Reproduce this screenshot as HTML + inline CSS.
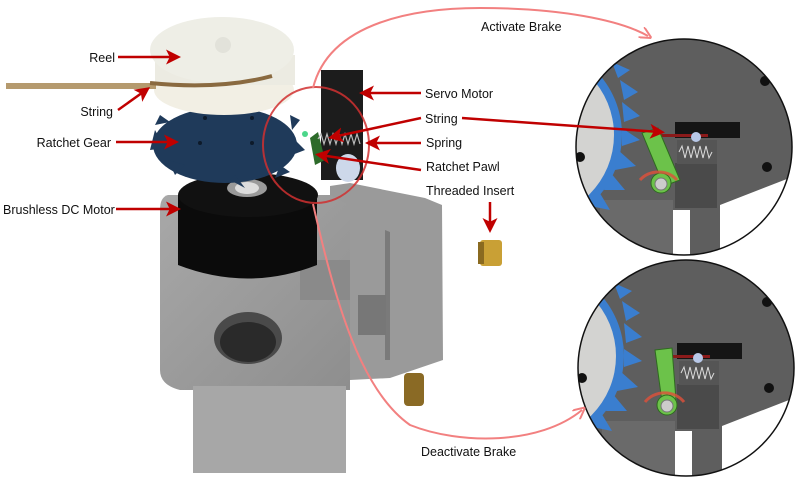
<!DOCTYPE html>
<html><head><style>
html,body{margin:0;padding:0;background:#fff;}
svg{display:block;}
text{font-family:"Liberation Sans",sans-serif;font-size:12.5px;fill:#111;}
</style></head><body>
<svg width="804" height="486" viewBox="0 0 804 486" xmlns="http://www.w3.org/2000/svg">
<defs>
<marker id="ah" markerWidth="6" markerHeight="6" refX="4" refY="3" orient="auto" markerUnits="strokeWidth"><path d="M0,0 L6,3 L0,6 L1.5,3 z" fill="#c00000"/></marker>
<marker id="ap" markerWidth="6" markerHeight="6" refX="4" refY="3" orient="auto" markerUnits="strokeWidth"><path d="M0,0 L6,3 L0,6" fill="none" stroke="#f28080" stroke-width="1"/></marker>
<clipPath id="c1"><circle cx="684" cy="147" r="108"/></clipPath>
<clipPath id="c2"><circle cx="686" cy="368" r="108"/></clipPath>
<linearGradient id="gray" x1="0" y1="0" x2="1" y2="1"><stop offset="0" stop-color="#a8a8a8"/><stop offset="1" stop-color="#8e8e8e"/></linearGradient>
<g id="detail">
 <rect x="570" y="30" width="240" height="240" fill="#5e5e5e"/>
 <polygon points="720,205 810,170 810,270 720,270" fill="#fff"/>
 <polygon points="600,200 673,200 673,270 600,270" fill="#6a6a6a"/>
 <polygon points="673,210 690,210 690,270 673,270" fill="#fff"/>
 <rect x="675" y="163" width="42" height="45" fill="#4a4a4a"/>
 <rect x="675" y="122" width="65" height="16" fill="#151515"/>
 <rect x="677" y="140" width="40" height="24" fill="#555"/>
 <path d="M679,152 l3,-6 3,12 3,-12 3,12 3,-12 3,12 3,-12 3,12 3,-12 3,12 3,-6" fill="none" stroke="#ddd" stroke-width="1"/>
 <circle cx="530" cy="135" r="92" fill="#3a7ecf"/>
 <circle cx="530" cy="135" r="84" fill="#d3d3d1"/>
 <g fill="#3a7ecf">
  <polygon points="612,62 630,70 618,78"/><polygon points="620,80 638,92 624,100"/><polygon points="622,102 640,116 624,122"/>
  <polygon points="622,128 640,140 622,146"/><polygon points="618,150 636,166 615,170"/><polygon points="610,172 625,190 604,190"/>
  <polygon points="598,190 610,210 590,206"/>
 </g>
 <circle cx="580" cy="157" r="5" fill="#111"/>
 <circle cx="765" cy="81" r="5" fill="#111"/>
 <circle cx="767" cy="167" r="5" fill="#111"/>
 <rect x="660" y="134" width="48" height="3" fill="#8b1a1a"/>
 <circle cx="696" cy="137" r="5" fill="#b8c8e8"/>
</g>
</defs>

<!-- right detail circles -->
<g clip-path="url(#c1)">
 <use href="#detail"/>
 <path d="M642,133 L658,128 L680,180 L664,186 z" fill="#6cc24a" stroke="#2e6b1f" stroke-width="1"/>
 <circle cx="661" cy="183" r="10" fill="#6cc24a" stroke="#2e6b1f"/>
 <circle cx="661" cy="184" r="6" fill="#ccc" stroke="#777"/>
 <path d="M640,180 A24,22 0 0 1 677,180" fill="none" stroke="#e0503a" stroke-width="3" opacity="0.8"/>
</g>
<circle cx="684" cy="147" r="108" fill="none" stroke="#111" stroke-width="1.5"/>

<g clip-path="url(#c2)">
 <use href="#detail" transform="translate(2,221)"/>
 <path d="M655,350 L672,348 L676,400 L662,402 z" fill="#6cc24a" stroke="#2e6b1f" stroke-width="1"/>
 <circle cx="667" cy="405" r="10" fill="#6cc24a" stroke="#2e6b1f"/>
 <circle cx="667" cy="406" r="6" fill="#ccc" stroke="#777"/>
 <path d="M645,402 A24,22 0 0 1 684,402" fill="none" stroke="#e0503a" stroke-width="3" opacity="0.8"/>
</g>
<circle cx="686" cy="368" r="108" fill="none" stroke="#111" stroke-width="1.5"/>

<!-- base -->
<polygon points="330,186 350,183 425,198 442,205 443,360 390,378 350,380 350,300 330,290" fill="#9a9a9a"/>
<polygon points="385,230 390,232 390,360 385,360" fill="#7a7a7a"/>
<rect x="358" y="295" width="28" height="40" fill="#777"/>
<path d="M168,195 L330,195 L350,205 L350,390 L180,390 Q160,385 160,370 L160,210 Q160,197 168,195 z" fill="url(#gray)"/>
<rect x="300" y="260" width="50" height="40" fill="#8a8a8a"/>
<ellipse cx="248" cy="338" rx="34" ry="26" fill="#4a4a4a"/>
<ellipse cx="248" cy="342" rx="28" ry="20" fill="#2a2a2a"/>
<rect x="193" y="386" width="153" height="87" fill="#a7a7a7"/>

<!-- motor -->
<path d="M178,195 L317,195 L317,265 Q248,292 178,265 z" fill="#0b0b0b"/>
<ellipse cx="248" cy="195" rx="70" ry="22" fill="#111"/>
<ellipse cx="247" cy="188" rx="20" ry="9" fill="#9a9a9a"/>
<ellipse cx="247" cy="188" rx="12" ry="6" fill="#ddd"/>

<!-- gear -->
<ellipse cx="225" cy="145" rx="72" ry="38" fill="#1f3a5a"/>
<g fill="#1f3a5a">
 <polygon points="155,130 150,150 165,148"/><polygon points="160,115 155,125 170,122"/><polygon points="168,160 175,175 185,165"/>
 <polygon points="290,115 300,120 292,130"/><polygon points="295,140 305,150 292,155"/><polygon points="280,165 290,172 275,178"/>
 <polygon points="230,180 245,188 235,175"/>
</g>
<circle cx="205" cy="118" r="2" fill="#0d1a2a"/><circle cx="252" cy="118" r="2" fill="#0d1a2a"/>
<circle cx="200" cy="143" r="2" fill="#0d1a2a"/><circle cx="252" cy="143" r="2" fill="#0d1a2a"/>

<!-- reel -->
<ellipse cx="224" cy="90" rx="70" ry="25" fill="#f2efe4"/>
<rect x="155" y="55" width="140" height="30" fill="#ecebe2"/>
<ellipse cx="222" cy="50" rx="72" ry="33" fill="#eeeee6"/>
<circle cx="223" cy="45" r="8" fill="#e2e2da"/>
<rect x="6" y="83" width="150" height="6" fill="#b59a6e"/>
<path d="M150,83 Q220,90 272,76" fill="none" stroke="#8a6a40" stroke-width="4"/>

<!-- servo -->
<rect x="321" y="70" width="42" height="110" fill="#1c1c1c"/>
<ellipse cx="348" cy="168" rx="12" ry="14" fill="#cdd8ea"/>
<path d="M310,138 L318,132 L325,160 L315,165 z" fill="#2d6b2a"/>
<circle cx="305" cy="134" r="3" fill="#4cd68a"/>
<path d="M318,139 l3,-5 3,10 3,-10 3,10 3,-10 3,10 3,-10 3,10 3,-10 3,10 3,-10 3,10 3,-10 3,10" fill="none" stroke="#bbb" stroke-width="1.2"/>

<!-- inserts -->
<rect x="480" y="240" width="22" height="26" rx="3" fill="#c9a035"/>
<rect x="478" y="242" width="6" height="22" fill="#8a6a20"/>
<rect x="404" y="373" width="20" height="33" rx="4" fill="#8a6a25"/>

<!-- highlight circles -->
<ellipse cx="316" cy="145" rx="53" ry="58" fill="none" stroke="#d03030" stroke-width="2" opacity="0.85"/>
<path d="M313,88 C330,20 420,8 480,8 C560,8 620,20 648,36" fill="none" stroke="#f28080" stroke-width="2" marker-end="url(#ap)"/>
<path d="M313,204 C335,300 360,390 410,425 C460,445 540,445 582,410" fill="none" stroke="#f28080" stroke-width="2" marker-end="url(#ap)"/>

<!-- arrows -->
<g stroke="#c00000" stroke-width="2.5" fill="none" marker-end="url(#ah)">
 <line x1="118" y1="57" x2="176" y2="57"/>
 <line x1="118" y1="110" x2="146" y2="90"/>
 <line x1="116" y1="142" x2="174" y2="142"/>
 <line x1="116" y1="209" x2="176" y2="209"/>
 <line x1="421" y1="93" x2="364" y2="93"/>
 <line x1="421" y1="118" x2="333" y2="137"/>
 <line x1="421" y1="143" x2="370" y2="143"/>
 <line x1="421" y1="170" x2="320" y2="155"/>
 <line x1="490" y1="202" x2="490" y2="228"/>
 <line x1="462" y1="118" x2="660" y2="132"/>
</g>

<text x="115" y="62" text-anchor="end">Reel</text>
<text x="113" y="116" text-anchor="end">String</text>
<text x="111" y="147" text-anchor="end">Ratchet Gear</text>
<text x="3" y="214">Brushless DC Motor</text>
<text x="425" y="98">Servo Motor</text>
<text x="425" y="123">String</text>
<text x="426" y="147">Spring</text>
<text x="426" y="171">Ratchet Pawl</text>
<text x="426" y="195">Threaded Insert</text>
<text x="481" y="31">Activate Brake</text>
<text x="421" y="456">Deactivate Brake</text>
</svg>
</body></html>
